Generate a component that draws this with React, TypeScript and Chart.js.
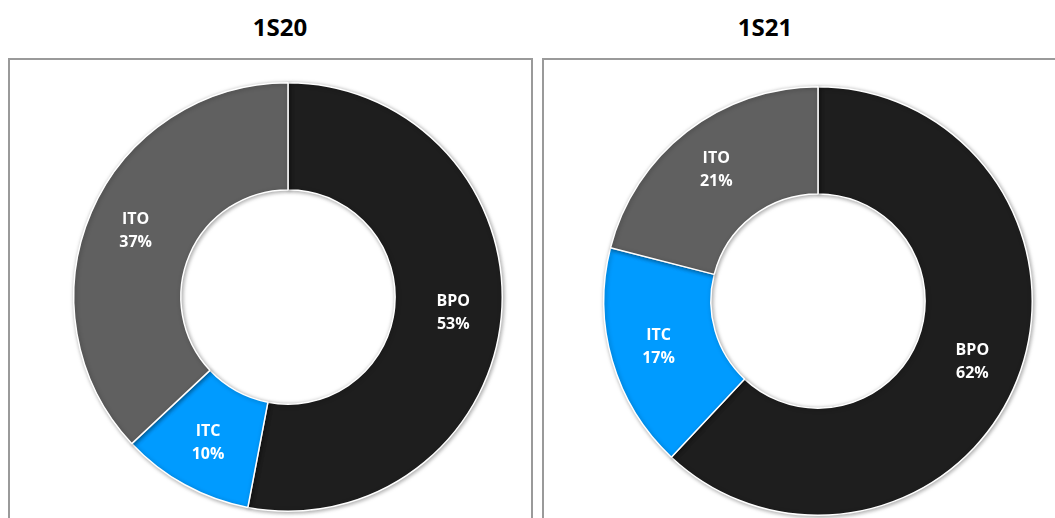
import React, { useEffect, useRef } from "react";
import { Chart, registerables } from "chart.js";

Chart.register(...registerables);

const categories = ["BPO", "ITC", "ITO"];
const values1S20 = [53, 10, 37];
const values1S21 = [62, 17, 21];
const titles = ["1S20", "1S21"];
const colors = ["#1e1e1e", "#009bff", "#606060"];

const labelPlugin = {
  id: "sliceLabels",
  afterDatasetsDraw(chart: any) {
    const ctx = chart.ctx;
    const meta = chart.getDatasetMeta(0);
    const data = chart.data.datasets[0].data as number[];
    const labels = chart.data.labels as string[];
    ctx.save();
    ctx.fillStyle = "#ffffff";
    ctx.font = "bold 16px 'Open Sans'";
    ctx.textAlign = "center";
    ctx.textBaseline = "middle";
    meta.data.forEach((arc: any, i: number) => {
      const p = arc.getProps(["startAngle", "endAngle", "innerRadius", "outerRadius", "x", "y"], true);
      const mid = (p.startAngle + p.endAngle) / 2;
      const r = p.innerRadius + (p.outerRadius - p.innerRadius) * 0.55;
      const x = p.x + Math.cos(mid) * r;
      const y = p.y + Math.sin(mid) * r;
      ctx.fillText(labels[i], x, y - 11.5);
      ctx.fillText(`${data[i]}%`, x, y + 11.5);
    });
    ctx.restore();
  },
};

const shadowPlugin = {
  id: "arcShadow",
  beforeDatasetsDraw(chart: any) {
    const ctx = chart.ctx;
    ctx.save();
    ctx.shadowColor = "rgba(0,0,0,0.35)";
    ctx.shadowBlur = 4;
    ctx.shadowOffsetX = 1;
    ctx.shadowOffsetY = 1;
  },
  afterDatasetsDraw(chart: any) {
    chart.ctx.restore();
  },
};

function Donut({ values }: { values: number[] }) {
  const ref = useRef<HTMLCanvasElement | null>(null);
  useEffect(() => {
    if (!ref.current) return;
    const chart = new Chart(ref.current, {
      type: "doughnut",
      data: {
        labels: categories,
        datasets: [
          {
            data: values,
            backgroundColor: colors,
            borderColor: "#ffffff",
            borderWidth: 1.5,
          },
        ],
      },
      options: {
        animation: false,
        responsive: false,
        maintainAspectRatio: false,
        cutout: "50%",
        layout: { padding: 10 },
        plugins: {
          legend: { display: false },
          tooltip: { enabled: false },
          title: { display: false },
        },
      },
      plugins: [shadowPlugin, labelPlugin],
    });
    return () => chart.destroy();
  }, [values]);
  return <canvas ref={ref} width={450} height={450} style={{ width: 450, height: 450 }} />;
}

export default function App() {
  const titleStyle: React.CSSProperties = {
    position: "absolute",
    top: 10,
    width: 200,
    textAlign: "center",
    font: "bold 24px 'Open Sans'",
    color: "#000",
    lineHeight: "34px",
  };
  const boxStyle: React.CSSProperties = {
    position: "absolute",
    top: 58,
    height: 480,
    border: "2px solid #9a9a9a",
    boxSizing: "border-box",
    background: "#fff",
  };
  return (
    <div style={{ position: "fixed", left: 0, top: 0, width: 1055, height: 518, overflow: "hidden", background: "#fff" }}>
      <div style={{ ...titleStyle, left: 280 - 100 }}>{titles[0]}</div>
      <div style={{ ...titleStyle, left: 765 - 100 }}>{titles[1]}</div>
      <div style={{ ...boxStyle, left: 8, width: 525 }} />
      <div style={{ ...boxStyle, left: 542, width: 530 }} />
      <div style={{ position: "absolute", left: 63, top: 72 }}>
        <Donut values={values1S20} />
      </div>
      <div style={{ position: "absolute", left: 593, top: 76 }}>
        <Donut values={values1S21} />
      </div>
    </div>
  );
}
